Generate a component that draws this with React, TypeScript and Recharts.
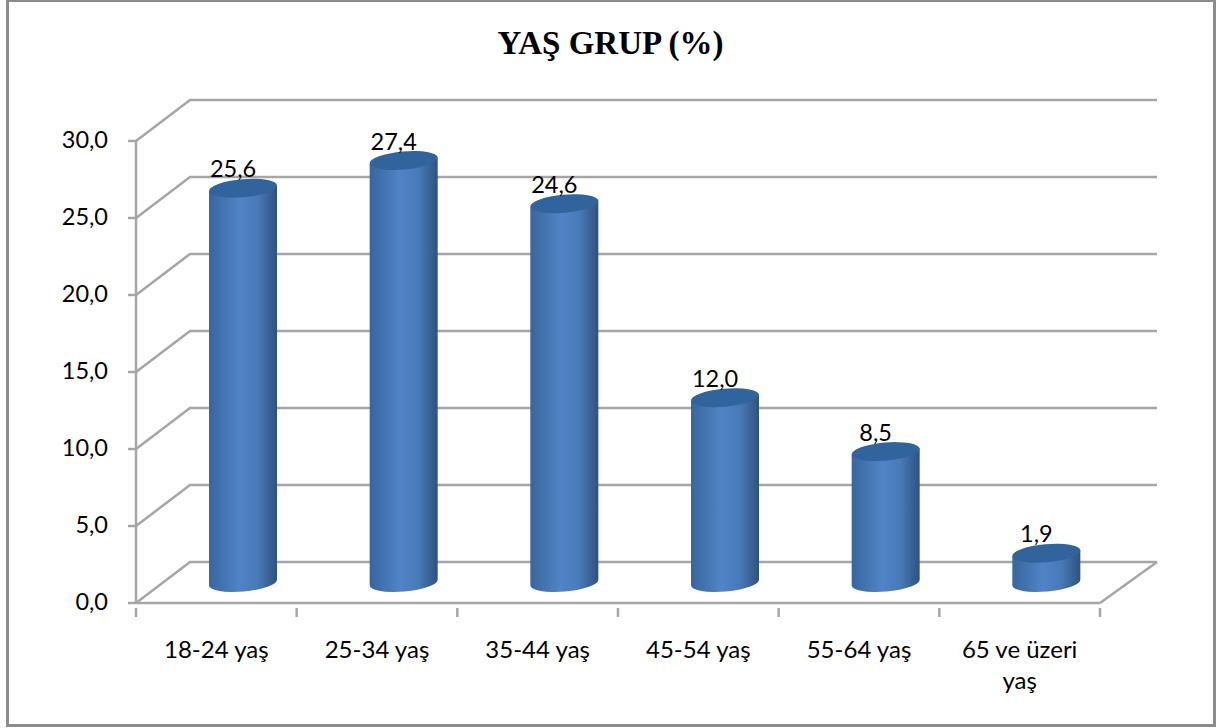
import { ComposedChart, Bar, XAxis, YAxis, CartesianGrid, LabelList } from 'recharts'

const ageGroups = ['18-24 yaş', '25-34 yaş', '35-44 yaş', '45-54 yaş', '55-64 yaş', '65 ve üzeri yaş']
const shares = [25.6, 27.4, 24.6, 12.0, 8.5, 1.9]
const yTicks = [0, 5, 10, 15, 20, 25, 30]

const chartData = ageGroups.map((group, i) => ({ group, share: shares[i] }))

const GREY = '#a6a6a6'
const FONT = 'Lato, "Open Sans", sans-serif'
// depth of the fake 3D box
const DEPTH_X = 54
const DEPTH_Y = 41
const PLOT_LEFT = 136
const PLOT_RIGHT = 1100
const BAND = (PLOT_RIGHT - PLOT_LEFT) / ageGroups.length

const fmt = (v: number) => v.toFixed(1).replace('.', ',')

const GridLine = (props: any) => {
  const { x1, x2, y1 } = props
  const backRight = x2 + DEPTH_X + 3
  return (
    <g stroke={GREY} strokeWidth={2.5} fill="none">
      <path d={`M${x1},${y1} L${x1 + DEPTH_X},${y1 - DEPTH_Y} L${backRight},${y1 - DEPTH_Y}`} />
      {y1 > 590 && <line x1={x2} y1={y1} x2={backRight} y2={y1 - DEPTH_Y} />}
    </g>
  )
}

// cylinder sits half way into the box
const Cylinder = (props: any) => {
  const { x, y, width, height } = props
  const left = x + DEPTH_X / 2
  const right = left + width
  const top = y - DEPTH_Y / 2
  const bottom = top + height
  const rx = width / 2
  const ry = 9
  const tilt = 3
  return (
    <g>
      <path
        d={`M${left},${top + tilt} L${left},${bottom + tilt} A${rx},${ry} -5 0 0 ${right},${bottom - tilt} L${right},${top - tilt} Z`}
        fill="url(#cylinderSide)"
      />
      <path
        d={`M${left},${top + tilt} A${rx},${ry} -5 0 1 ${right},${top - tilt} A${rx},${ry} -5 0 1 ${left},${top + tilt} Z`}
        fill="#31649c"
      />
    </g>
  )
}

const ValueLabel = (props: any) => {
  const { x, y, width, value } = props
  return (
    <text
      x={x + width / 2 + 17}
      y={y - DEPTH_Y / 2 - 11}
      textAnchor="middle"
      fontFamily={FONT}
      fontSize={23.5}
      fill="#000"
    >
      {fmt(value)}
    </text>
  )
}

const CategoryTick = (props: any) => {
  const { x, y, payload, index } = props
  const words: string[] = String(payload.value).split(' ')
  const lines = words.length > 2 ? [words.slice(0, -1).join(' '), words[words.length - 1]] : [payload.value]
  const axisY = y - 1
  return (
    <g>
      <line x1={x - BAND / 2} x2={x - BAND / 2} y1={axisY} y2={axisY + 9} stroke={GREY} strokeWidth={2.5} />
      {index === ageGroups.length - 1 && (
        <line x1={x + BAND / 2} x2={x + BAND / 2} y1={axisY} y2={axisY + 9} stroke={GREY} strokeWidth={2.5} />
      )}
      {lines.map((line: string, i: number) => (
        <text key={i} x={x} y={axisY + 50 + i * 31} textAnchor="middle" fontFamily={FONT} fontSize={24} fill="#000">
          {line}
        </text>
      ))}
    </g>
  )
}

export default function App() {
  return (
    <div style={{ position: 'absolute', left: 0, top: 0, width: 1217, height: 728, background: '#fff' }}>
      <div
        style={{
          position: 'absolute',
          left: 6,
          top: -1,
          width: 1204,
          height: 722,
          border: '3px solid #8c8c8c',
        }}
      />
      <div
        style={{
          position: 'absolute',
          left: 0,
          width: 1221,
          top: 25,
          textAlign: 'center',
          fontFamily: '"Liberation Serif", serif',
          fontWeight: 'bold',
          fontSize: 33,
          color: '#000',
        }}
      >
        YAŞ GRUP (%)
      </div>
      <div style={{ position: 'absolute', left: 0, top: 0 }}>
        <ComposedChart
          width={1217}
          height={728}
          data={chartData}
          margin={{ top: 141, right: 1217 - PLOT_RIGHT, bottom: 0, left: 0 }}
        >
          <defs>
            <linearGradient id="cylinderSide" x1="0" y1="0" x2="1" y2="0">
              <stop offset="0%" stopColor="#38669e" />
              <stop offset="45%" stopColor="#5084c6" />
              <stop offset="72%" stopColor="#487ab8" />
              <stop offset="100%" stopColor="#2e527e" />
            </linearGradient>
          </defs>
          <CartesianGrid vertical={false} horizontal={GridLine} />
          <XAxis
            dataKey="group"
            height={125}
            interval={0}
            tickLine={false}
            axisLine={{ stroke: GREY, strokeWidth: 2.5 }}
            tick={CategoryTick}
            tickMargin={0}
          />
          <YAxis
            width={PLOT_LEFT}
            domain={[0, 30]}
            ticks={yTicks}
            tickFormatter={fmt}
            tickSize={8}
            tickMargin={20}
            axisLine={{ stroke: GREY, strokeWidth: 2.5 }}
            tickLine={{ stroke: GREY, strokeWidth: 2.5 }}
            tick={{ fontSize: 23.5, fontFamily: FONT, fill: '#000', dy: -1 }}
          />
          <Bar dataKey="share" barSize={68} shape={Cylinder} isAnimationActive={false}>
            <LabelList dataKey="share" content={ValueLabel} />
          </Bar>
        </ComposedChart>
      </div>
    </div>
  )
}
